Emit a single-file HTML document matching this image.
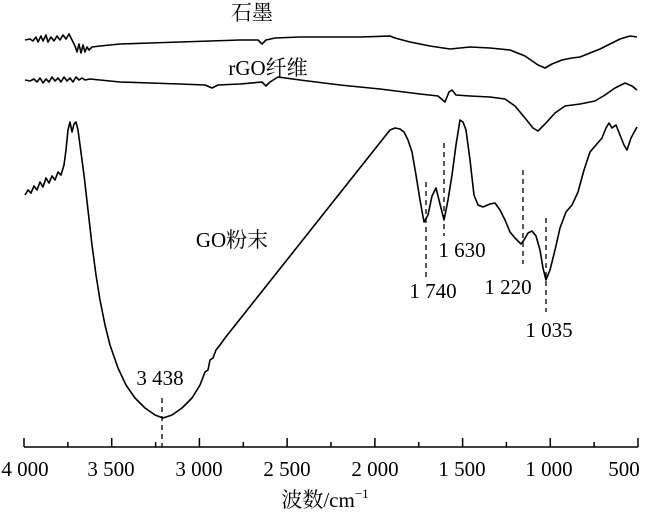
<!DOCTYPE html>
<html><head><meta charset="utf-8"><style>
body{margin:0;background:#fff}
svg{display:block}
text{font-family:"Liberation Serif","Noto Serif CJK SC",serif;fill:#000}
</style></head><body>
<svg width="650" height="520" viewBox="0 0 650 520" xmlns="http://www.w3.org/2000/svg">
<g fill="none" stroke="#000" stroke-width="1.6" stroke-linejoin="round">
<path d="M25,40 L30,39 33,41 36,37 38,42 41,36 43,41 46,35 48,42 51,37 54,41 57,36 60,40 63,35 66,39 69,34 72,40 75,46 77,52 79,44 81,53 83,45 85,52 87,47 89,50 92,47 100,46 120,44 150,43 180,42 210,41 240,40 258,40 262,44 266,40 275,38 300,37 330,37 360,37 390,36 395,38 410,42 430,46 450,49 470,47 490,48 510,50 525,56 538,65 545,68 552,64 562,60 572,58 580,57 590,53 600,49 610,44 620,39 630,36 637,37"/>
<path d="M25,80 L30,81 34,79 37,82 40,78 43,83 46,79 49,82 52,77 55,81 58,78 61,82 64,77 67,81 70,78 73,82 76,77 79,80 82,78 85,80 90,79 100,80 120,82 150,83 180,84 205,85 212,88 218,85 240,84 262,82 266,86 270,82 278,77 300,80 340,85 380,89 420,94 438,96 445,102 449,92 452,90 456,95 470,96 490,97 505,99 515,106 525,118 533,128 538,131 545,124 555,113 565,106 580,104 595,101 605,95 615,88 625,83 632,86 637,90"/>
<path d="M25,195 L28,190 31,193 34,186 37,190 40,182 43,187 46,178 49,183 52,176 55,180 58,172 61,175 64,165 66,150 68,130 70,122 72,132 74,124 76,122 78,130 80,145 84,175 88,210 92,245 96,275 100,300 105,325 110,345 118,368 126,385 135,398 145,408 155,415 163,418 172,415 182,408 192,398 200,385 205,372 208,370 210,360 213,358 216,350 220,345 225,338 390,130 395,128 400,129 404,132 408,140 412,152 416,175 420,200 424,222 428,215 432,196 436,188 439,200 444,220 448,200 452,175 456,145 460,120 463,122 466,130 470,160 474,195 478,205 483,207 490,204 495,203 500,210 505,220 510,232 515,238 521,244 524,240 528,233 532,231 536,236 540,250 543,268 546,280 550,270 555,250 560,228 566,212 572,205 578,192 584,170 590,152 596,145 602,138 606,128 609,123 612,128 616,125 620,135 624,145 627,150 631,138 637,127"/>
</g>
<g stroke="#000" stroke-width="1.3" stroke-dasharray="5,4">
<line x1="426" y1="182" x2="426" y2="280"/>
<line x1="444" y1="143" x2="444" y2="236"/>
<line x1="523" y1="170" x2="523" y2="264"/>
<line x1="546" y1="218" x2="546" y2="312"/>
<line x1="162" y1="398" x2="162" y2="447"/>
</g>
<g stroke="#000" stroke-width="1.5">
<line x1="24" y1="447" x2="638" y2="447"/>
<line x1="24" y1="447" x2="24" y2="438"/>
<line x1="111.7" y1="447" x2="111.7" y2="438"/>
<line x1="199.4" y1="447" x2="199.4" y2="438"/>
<line x1="287.1" y1="447" x2="287.1" y2="438"/>
<line x1="374.9" y1="447" x2="374.9" y2="438"/>
<line x1="462.6" y1="447" x2="462.6" y2="438"/>
<line x1="550.3" y1="447" x2="550.3" y2="438"/>
<line x1="638" y1="447" x2="638" y2="438"/>
<line x1="67.9" y1="447" x2="67.9" y2="442"/>
<line x1="155.6" y1="447" x2="155.6" y2="442"/>
<line x1="243.3" y1="447" x2="243.3" y2="442"/>
<line x1="331" y1="447" x2="331" y2="442"/>
<line x1="418.7" y1="447" x2="418.7" y2="442"/>
<line x1="506.4" y1="447" x2="506.4" y2="442"/>
<line x1="594.1" y1="447" x2="594.1" y2="442"/>
</g>
<g font-size="21" text-anchor="middle">
<text x="25" y="476">4 000</text>
<text x="111" y="476">3 500</text>
<text x="199" y="476">3 000</text>
<text x="287" y="476">2 500</text>
<text x="375" y="476">2 000</text>
<text x="462" y="476">1 500</text>
<text x="549" y="476">1 000</text>
<text x="624" y="476">500</text>
<text x="325" y="507">波数/cm<tspan font-size="13" dy="-9">−1</tspan></text>
<text x="252" y="20">石墨</text>
<text x="268" y="75">rGO纤维</text>
<text x="232" y="247">GO粉末</text>
<text x="160" y="385">3 438</text>
<text x="433" y="298">1 740</text>
<text x="462" y="257">1 630</text>
<text x="508" y="294">1 220</text>
<text x="549" y="337">1 035</text>
</g>
</svg>
</body></html>
